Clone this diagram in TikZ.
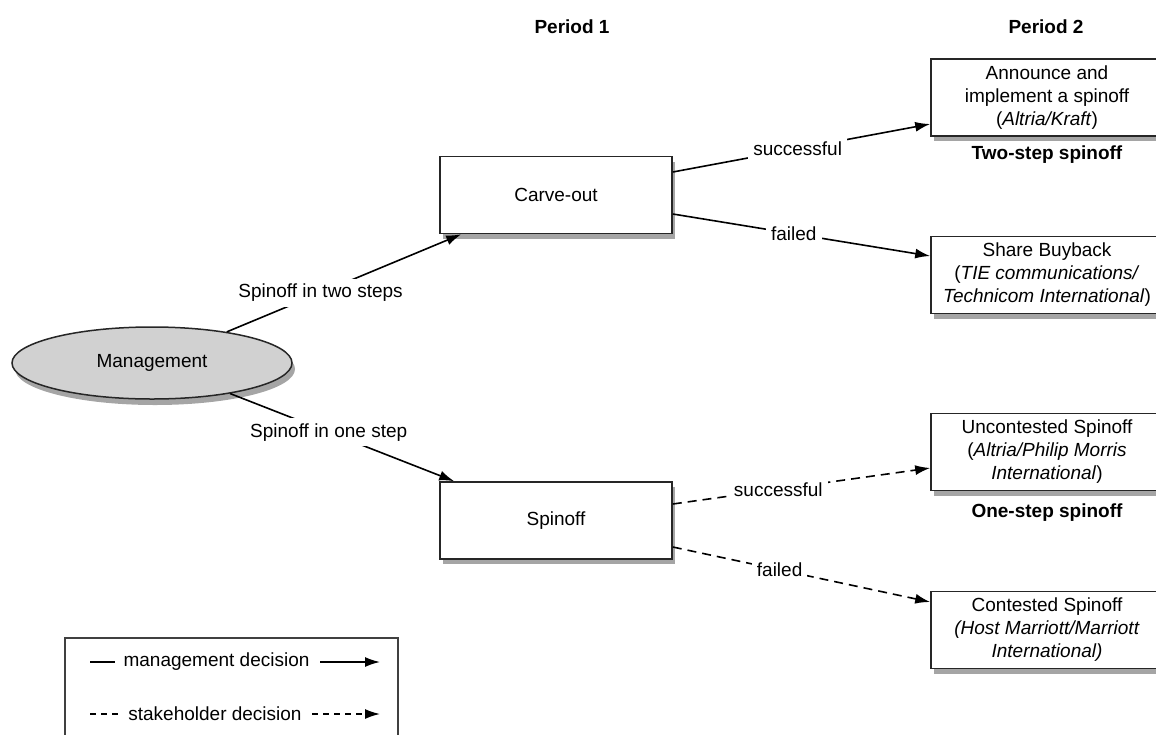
\documentclass[tikz,border=0pt]{standalone}
\usepackage{fontspec}
\setmainfont{Liberation Sans}
\usetikzlibrary{shapes.geometric,arrows.meta,shadows,calc}
\tikzset{
  txt/.style={font=\fontsize{19}{23}\selectfont},
  box/.style={txt, draw=black!85, line width=1.6pt, fill=white, minimum width=232pt, minimum height=77pt, align=center, inner sep=2pt,
    drop shadow={shadow xshift=3pt, shadow yshift=-5pt, opacity=0.5, fill=black!70}},
  mgmtnode/.style={txt, ellipse, draw=black!85, line width=1.5pt, fill=black!18, minimum width=280pt, minimum height=72pt,
    drop shadow={shadow xshift=3pt, shadow yshift=-6pt, opacity=0.5, fill=black!70}},
  mline/.style={line width=1.6pt, -{Latex[length=15pt,width=10pt]}},
  sline/.style={mline, dash pattern=on 9pt off 6pt},
  lbl/.style={txt, fill=white, inner sep=5pt},
  head/.style={font=\bfseries\fontsize{19}{23}\selectfont},
}
\begin{document}
\begin{tikzpicture}[x=1pt,y=-1pt]
\useasboundingbox (0,0) rectangle (1156,734);
% headings
\node[head] (p1) at (572,27) {Period 1};
\node[head] (p2) at (1046,27) {Period 2};
% nodes
\node[mgmtnode] (mg) at (152,363) {Management};
\node[box] (carve) at (556,195) {Carve-out};
\node[box] (spin) at (556,520.5) {Spinoff};
\node[box] (a1) at (1047,97.5) {Announce and\\implement a spinoff\\(\textit{Altria/Kraft})};
\node[box] (a2) at (1047,275) {Share Buyback\\(\textit{TIE communications/}\\\textit{Technicom International})};
\node[box] (a3) at (1047,452) {Uncontested Spinoff\\(\textit{Altria/Philip Morris}\\\textit{International})};
\node[box] (a4) at (1047,630) {Contested Spinoff\\\textit{(Host Marriott/Marriott}\\\textit{International)}};
\node[head] (two) at (1047,155) {Two-step spinoff};
\node[head] (one) at (1047,513) {One-step spinoff};
% connectors
\draw[mline] (mg) -- node[lbl,pos=0.40] {Spinoff in two steps} ([xshift=22pt]carve.south west);
\draw[mline] (mg) -- node[lbl,pos=0.44] {Spinoff in one step} ([xshift=15pt]spin.north west);
\draw[mline] ($(carve.east)+(0,-23)$) -- node[lbl,pos=0.485] {successful} ($(a1.west)+(0,26.5)$);
\draw[mline] ($(carve.east)+(0,19)$) -- node[lbl,pos=0.47] {failed} ($(a2.west)+(0,-19)$);
\draw[sline] ($(spin.east)+(0,-16.5)$) -- node[lbl,pos=0.41] {successful} ($(a3.west)+(0,16)$);
\draw[sline] ($(spin.east)+(0,26.5)$) -- node[lbl,pos=0.415] {failed} ($(a4.west)+(0,-28)$);
% legend
\node[draw=black!75, line width=1.3pt, minimum width=333pt, minimum height=122pt, inner sep=0pt] (leg) at (231.5,699) {};
\coordinate (l1a) at (90,662);
\coordinate (l1b) at (115,662);
\node[txt] (l1t) at (216.5,662) {management decision};
\coordinate (l1c) at (320,662);
\coordinate (l1d) at (380,662);
\draw[line width=1.5pt] (l1a) -- (l1b);
\draw[mline] (l1c) -- (l1d);
\coordinate (l2a) at (90,714);
\coordinate (l2b) at (118,714);
\node[txt] (l2t) at (215,714) {stakeholder decision};
\coordinate (l2c) at (312,714);
\coordinate (l2d) at (380,714);
\draw[line width=1.5pt, dash pattern=on 6pt off 5pt] (l2a) -- (l2b);
\draw[sline, dash pattern=on 6pt off 5pt] (l2c) -- (l2d);
\end{tikzpicture}
\end{document}
